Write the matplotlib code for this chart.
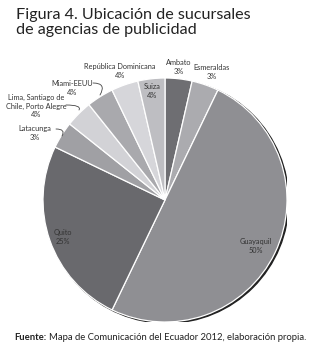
import matplotlib
matplotlib.use("Agg")
import matplotlib.pyplot as plt
from matplotlib.patches import Circle

plt.rcParams['font.family'] = ['Lato', 'DejaVu Sans']

# data, clockwise from 12 o'clock (number of branches, shown percentages)
labels = ['Ambato', 'Esmeraldas', 'Guayaquil', 'Quito', 'Latacunga',
          'Lima, Santiago de\nChile, Porto Alegre', 'Miami-EEUU',
          'República Dominicana', 'Suiza']
counts = [1, 1, 14, 7, 1, 1, 1, 1, 1]
pct_labels = [3, 3, 50, 25, 3, 4, 4, 4, 4]
colors = ['#6e6e72', '#ababaf', '#8f8f93', '#69696d', '#a0a0a4',
          '#d2d2d6', '#a9a9ad', '#d6d6da', '#bebec2']

W, H = 320, 350
fig = plt.figure(figsize=(3.2, 3.5), dpi=100)

# pie geometry in pixels
cx, cy, r = 165, 200, 122
ax = fig.add_axes([(cx - r) / W, (H - cy - r) / H, 2 * r / W, 2 * r / H])

# slight shadow on the lower right side
ax.add_patch(Circle((0.014, -0.01), 1.0, color='#222222', zorder=0))
wedges, _ = ax.pie(counts, colors=colors, startangle=90, counterclock=False,
                   radius=1.0, wedgeprops=dict(edgecolor='white', linewidth=0.9))
ax.set_xlim(-1, 1)
ax.set_ylim(-1, 1)
ax.axis('off')

def to_fig(px, py):
    return px / W, 1 - py / H

def to_data(px, py):
    return (px - cx) / r, (cy - py) / r

# label text positions in pixels (center of text block)
label_pos = {
    'Ambato': (179, 67),
    'Esmeraldas': (212, 72),
    'Guayaquil': (256, 246),
    'Quito': (63, 237),
    'Latacunga': (35, 133),
    'Lima, Santiago de\nChile, Porto Alegre': (36, 106),
    'Miami-EEUU': (72, 88),
    'República Dominicana': (120, 71),
    'Suiza': (152, 91),
}
# leader lines: start (near text) -> end (pie edge), pixels
leaders = {
    'Latacunga': ((56, 129), (62, 136)),
    'Lima, Santiago de\nChile, Porto Alegre': ((66, 105), (79, 110)),
    'Miami-EEUU': ((93, 83), (100, 95)),
}

for lab, p in zip(labels, pct_labels):
    x, y = label_pos[lab]
    fx, fy = to_fig(x, y)
    fig.text(fx, fy, f'{lab}\n{p}%', ha='center', va='center', fontsize=5.3,
             color='#333333', linespacing=1.25)

for lab, ((x0, y0), (x1, y1)) in leaders.items():
    ax.annotate('', xy=to_data(x1, y1), xytext=to_data(x0, y0), annotation_clip=False,
                arrowprops=dict(arrowstyle='-', color='#444444', lw=0.6,
                                shrinkA=0, shrinkB=0,
                                connectionstyle='angle3,angleA=0,angleB=60'))

fig.text(16 / W, 1 - 8 / H, 'Figura 4. Ubicación de sucursales\nde agencias de publicidad',
         ha='left', va='top', fontsize=11.6, color='#222222', linespacing=1.1)

t1 = fig.text(14 / W, 1 - 337 / H, 'Fuente:', ha='left', va='center', fontsize=6.8,
              fontweight='bold', color='#222222')
fig.canvas.draw()
bb = t1.get_window_extent()
fig.text((bb.x1 + 3) / W, 1 - 337 / H,
         'Mapa de Comunicación del Ecuador 2012, elaboración propia.',
         ha='left', va='center', fontsize=6.8, color='#222222')

fig.savefig('out.png', dpi=100, facecolor='white')
